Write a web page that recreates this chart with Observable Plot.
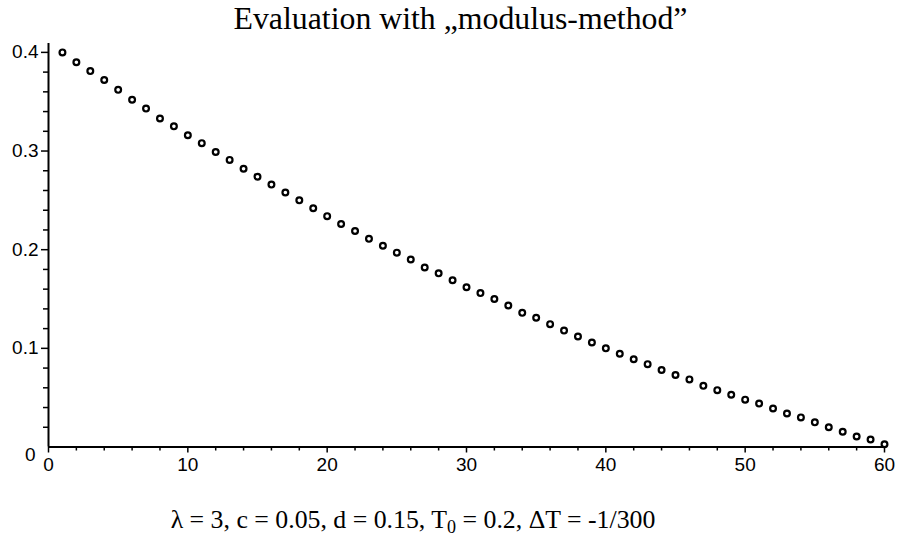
<!DOCTYPE html>
<html>
<head>
<meta charset="utf-8">
<script src="https://cdn.jsdelivr.net/npm/d3@7"></script>
<script src="https://cdn.jsdelivr.net/npm/@observablehq/plot@0.6"></script>
<style>
  html, body { margin: 0; padding: 0; background: #fff; }
  #page { position: relative; width: 897px; height: 556px; overflow: hidden; background: #fff; }
  #title {
    position: absolute; left: 20px; width: 881px; top: 1px;
    text-align: center; font-family: "Liberation Serif", serif; font-size: 31.8px;
    line-height: normal; color: #000; white-space: nowrap;
  }
  #chart { position: absolute; left: 0; top: 40px; }
  #caption {
    position: absolute; left: 0; width: 826px; top: 505px;
    text-align: center; font-family: "Liberation Serif", serif; font-size: 25.8px;
    line-height: normal; color: #000; white-space: nowrap;
  }
  #caption sub { font-size: 70%; vertical-align: -0.25em; line-height: 0; }
</style>
</head>
<body>
<div id="page">
  <div id="title">Evaluation with „modulus-method”</div>
  <div id="chart"></div>
  <div id="caption">λ = 3, c = 0.05, d = 0.15, T<sub>0</sub> = 0.2, ΔT = -1/300</div>
</div>
<script>
// Time steps of the evaluation
const steps = [
  1, 2, 3, 4, 5, 6, 7, 8, 9, 10,
  11, 12, 13, 14, 15, 16, 17, 18, 19, 20,
  21, 22, 23, 24, 25, 26, 27, 28, 29, 30,
  31, 32, 33, 34, 35, 36, 37, 38, 39, 40,
  41, 42, 43, 44, 45, 46, 47, 48, 49, 50,
  51, 52, 53, 54, 55, 56, 57, 58, 59, 60
];

// Evaluated values at each step
const values = [
  0.400, 0.390, 0.381, 0.372, 0.362, 0.352, 0.343, 0.333, 0.325, 0.316,
  0.308, 0.299, 0.291, 0.282, 0.274, 0.266, 0.258, 0.250, 0.242, 0.234,
  0.226, 0.219, 0.211, 0.204, 0.197, 0.190, 0.182, 0.176, 0.169, 0.162,
  0.156, 0.150, 0.1435, 0.136, 0.131, 0.1245, 0.118, 0.112, 0.106, 0.100,
  0.0945, 0.089, 0.084, 0.078, 0.073, 0.0685, 0.062, 0.0576, 0.053, 0.048,
  0.044, 0.039, 0.034, 0.030, 0.025, 0.020, 0.0154, 0.0106, 0.0076, 0.0028
];

// Axis ticks
const xMajorTicks = [0, 10, 20, 30, 40, 50, 60];
const xMinorTicks = [2, 4, 6, 8, 12, 14, 16, 18, 22, 24, 26, 28, 32, 34, 36, 38,
                     42, 44, 46, 48, 52, 54, 56, 58];
const yMajorTicks = [0.1, 0.2, 0.3, 0.4];
const yMinorTicks = [0.02, 0.04, 0.06, 0.08, 0.12, 0.14, 0.16, 0.18, 0.22, 0.24,
                     0.26, 0.28, 0.32, 0.34, 0.36, 0.38];
const yZeroTick = [0];

const points = steps.map((s, i) => ({step: s, value: values[i]}));

const tickFont = {fontSize: 19, fill: "#000", tickFormat: (d) => String(d)};

const chart = Plot.plot({
  width: 897,
  height: 440,
  marginLeft: 48,
  marginRight: 13,
  marginTop: 3,
  marginBottom: 33.5,
  style: {fontFamily: "'Liberation Sans', sans-serif", background: "#fff", color: "#000"},
  x: {domain: [0, 60], label: null},
  y: {domain: [0, 0.409], label: null},
  marks: [
    Plot.axisX(xMinorTicks, {tickSize: 4, tickFormat: () => "", strokeWidth: 1.5}),
    Plot.axisX(xMajorTicks, {tickSize: 6, tickPadding: 4, strokeWidth: 1.5, ...tickFont}),
    Plot.axisY(yMinorTicks, {tickSize: 5, tickFormat: () => "", strokeWidth: 1.5}),
    Plot.axisY(yMajorTicks, {tickSize: 7, tickPadding: 3, strokeWidth: 1.5, ...tickFont}),
    Plot.axisY(yZeroTick, {tickSize: 0, tickPadding: 13, dy: 8, ...tickFont}),
    Plot.ruleY([0], {strokeWidth: 2}),
    Plot.ruleX([0], {strokeWidth: 2}),
    Plot.dot(points, {x: "step", y: "value", r: 2.9, stroke: "#000", strokeWidth: 2.2, fill: "#fff"})
  ]
});

document.getElementById("chart").appendChild(chart);
</script>
</body>
</html>
